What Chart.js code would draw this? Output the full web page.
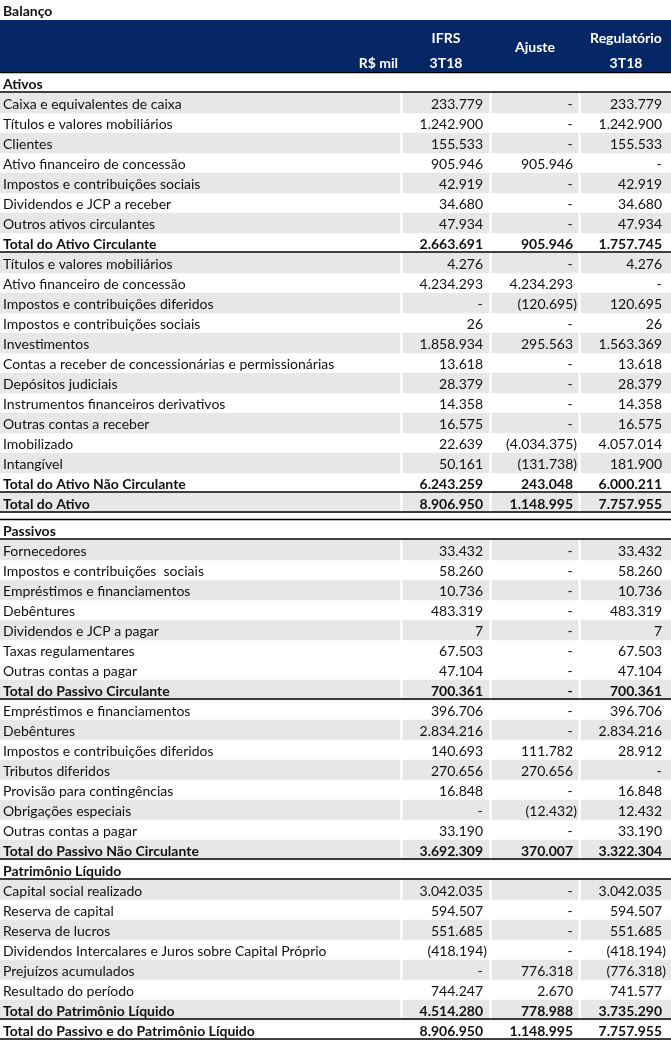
<!DOCTYPE html>
<html><head><meta charset="utf-8">
<script src="https://cdn.jsdelivr.net/npm/chart.js@4.4.1/dist/chart.umd.min.js"></script>
<style>
html,body{margin:0;padding:0;background:#fff;}
#wrap{position:relative;width:671px;height:1040px;overflow:hidden;}
#c1{position:absolute;left:0;top:0;}
#c2{position:absolute;left:0;top:518px;}
</style></head><body>
<div id="wrap"><canvas id="c1" width="671" height="513"></canvas><canvas id="c2" width="671" height="522"></canvas></div>
<script>
// ---------- DATA ----------
const title = 'Balanço';
const unitLabel = 'R$ mil';
const colHeaders = [['IFRS', '3T18'], ['Ajuste'], ['Regulatório', '3T18']];

const assetLabels = [
  'Ativos',
  'Caixa e equivalentes de caixa',
  'Títulos e valores mobiliários',
  'Clientes',
  'Ativo financeiro de concessão',
  'Impostos e contribuições sociais',
  'Dividendos e JCP a receber',
  'Outros ativos circulantes',
  'Total do Ativo Circulante',
  'Títulos e valores mobiliários',
  'Ativo financeiro de concessão',
  'Impostos e contribuições diferidos',
  'Impostos e contribuições sociais',
  'Investimentos',
  'Contas a receber de concessionárias e permissionárias',
  'Depósitos judiciais',
  'Instrumentos financeiros derivativos',
  'Outras contas a receber',
  'Imobilizado',
  'Intangível',
  'Total do Ativo Não Circulante',
  'Total do Ativo'
];
const assetIFRS = [null, 233779, 1242900, 155533, 905946, 42919, 34680, 47934, 2663691,
  4276, 4234293, 0, 26, 1858934, 13618, 28379, 14358, 16575, 22639, 50161, 6243259, 8906950];
const assetAjuste = [null, 0, 0, 0, 905946, 0, 0, 0, 905946,
  0, 4234293, -120695, 0, 295563, 0, 0, 0, 0, -4034375, -131738, 243048, 1148995];
const assetReg = [null, 233779, 1242900, 155533, 0, 42919, 34680, 47934, 1757745,
  4276, 0, 120695, 26, 1563369, 13618, 28379, 14358, 16575, 4057014, 181900, 6000211, 7757955];

const liabLabels = [
  'Passivos',
  'Fornecedores',
  'Impostos e contribuições  sociais',
  'Empréstimos e financiamentos',
  'Debêntures',
  'Dividendos e JCP a pagar',
  'Taxas regulamentares',
  'Outras contas a pagar',
  'Total do Passivo Circulante',
  'Empréstimos e financiamentos',
  'Debêntures',
  'Impostos e contribuições diferidos',
  'Tributos diferidos',
  'Provisão para contingências',
  'Obrigações especiais',
  'Outras contas a pagar',
  'Total do Passivo Não Circulante',
  'Patrimônio Líquido',
  'Capital social realizado',
  'Reserva de capital',
  'Reserva de lucros',
  'Dividendos Intercalares e Juros sobre Capital Próprio',
  'Prejuízos acumulados',
  'Resultado do período',
  'Total do Patrimônio Líquido',
  'Total do Passivo e do Patrimônio Líquido'
];
const liabIFRS = [null, 33432, 58260, 10736, 483319, 7, 67503, 47104, 700361,
  396706, 2834216, 140693, 270656, 16848, 0, 33190, 3692309,
  null, 3042035, 594507, 551685, -418194, 0, 744247, 4514280, 8906950];
const liabAjuste = [null, 0, 0, 0, 0, 0, 0, 0, 0,
  0, 0, 111782, 270656, 0, -12432, 0, 370007,
  null, 0, 0, 0, 0, 776318, 2670, 778988, 1148995];
const liabReg = [null, 33432, 58260, 10736, 483319, 7, 67503, 47104, 700361,
  396706, 2834216, 28912, 0, 16848, 12432, 33190, 3322304,
  null, 3042035, 594507, 551685, -418194, -776318, 741577, 3735290, 7757955];

// ---------- STYLE / LAYOUT ----------
const FONT = 'Lato, "Open Sans", sans-serif';
const FS = 14;
const NAVY = '#062766';
const GRAY = '#e7e7e7';
const TEXT = '#111111';
const LABEL_SPAN = [0, 400];
const CELL_SPANS = [[403, 489], [492, 578], [581, 671]];
const NUM_RIGHT = [483, 573, 662];
const assetShaded = assetLabels.map((_, i) => i % 2 === 1);
const liabShadedIdx = [1, 3, 5, 8, 10, 12, 14, 16, 18, 20, 22, 24];
const liabShaded = liabLabels.map((_, i) => liabShadedIdx.includes(i));

function fmt(v) {
  if (v === null || v === undefined) return '';
  if (v === 0) return '-';
  const s = Math.abs(v).toString().replace(/\B(?=(\d{3})+(?!\d))/g, '.');
  return v < 0 ? '(' + s + ')' : s;
}

const tablePlugin = {
  id: 'tableText',
  afterDatasetsDraw(chart) {
    const o = chart.options.plugins.tableText;
    const ctx = chart.ctx;
    const xs = chart.scales.x, ys = chart.scales.y;
    const labels = chart.data.labels;
    const series = o.series;
    const rowH = ys.getPixelForValue(1) - ys.getPixelForValue(0);
    ctx.save();
    ctx.fillStyle = TEXT;
    ctx.textBaseline = 'middle';
    labels.forEach((lab, i) => {
      const y = ys.getPixelForValue(i) + 1;
      const heading = series.every(s => s[i] === null);
      const bold = heading || lab.startsWith('Total');
      ctx.font = (bold ? 'bold ' : '') + FS + 'px ' + FONT;
      ctx.textAlign = 'left';
      ctx.fillText(lab, xs.getPixelForValue(3), y);
      series.forEach((s, j) => {
        const v = s[i];
        if (v === null) return;
        const t = fmt(v);
        if (v === 0) {
          ctx.textAlign = 'center';
          ctx.fillText(t, xs.getPixelForValue(NUM_RIGHT[j] - 3), y);
        } else if (v < 0) {
          ctx.textAlign = 'right';
          ctx.fillText(t, xs.getPixelForValue(NUM_RIGHT[j] + 4), y);
        } else {
          ctx.textAlign = 'right';
          ctx.fillText(t, xs.getPixelForValue(NUM_RIGHT[j]), y);
        }
      });
      // borders
      ctx.strokeStyle = '#000';
      ctx.lineWidth = 1.5;
      if (bold) {
        const yb = ys.getPixelForValue(i) + rowH / 2 - 1;
        ctx.beginPath(); ctx.moveTo(xs.getPixelForValue(0), yb); ctx.lineTo(xs.getPixelForValue(671), yb); ctx.stroke();
      }
      if (i === 0) {
        const yt = ys.getPixelForValue(0) - rowH / 2 - 0.5;
        ctx.beginPath(); ctx.moveTo(xs.getPixelForValue(0), yt); ctx.lineTo(xs.getPixelForValue(671), yt); ctx.stroke();
      }
    });
    if (o.header) {
      const top = chart.chartArea.top;
      ctx.fillStyle = NAVY;
      ctx.fillRect(xs.getPixelForValue(0), top - 53, xs.getPixelForValue(671) - xs.getPixelForValue(0), 52);
      ctx.fillStyle = TEXT;
      ctx.font = 'bold ' + FS + 'px ' + FONT;
      ctx.textAlign = 'left';
      ctx.fillText(title, xs.getPixelForValue(3), top - 62);
      ctx.fillStyle = '#ffffff';
      ctx.textAlign = 'right';
      ctx.fillText(unitLabel, xs.getPixelForValue(398), top - 10);
      ctx.textAlign = 'center';
      colHeaders.forEach((h, j) => {
        const cx = xs.getPixelForValue((CELL_SPANS[j][0] + CELL_SPANS[j][1]) / 2);
        if (h.length === 2) {
          ctx.fillText(h[0], cx, top - 35);
          ctx.fillText(h[1], cx, top - 10);
        } else {
          ctx.fillText(h[0], cx, top - 26);
        }
      });
    }
    ctx.restore();
  }
};

function makeConfig(labels, ifrs, aj, reg, shaded, padTop, header) {
  const spans = [LABEL_SPAN].concat(CELL_SPANS);
  const datasets = spans.map(sp => ({
    data: labels.map((_, i) => shaded[i] ? sp.slice() : null),
    backgroundColor: GRAY,
    borderWidth: 0,
    borderSkipped: false,
    barPercentage: 1,
    categoryPercentage: 1,
    grouped: false
  }));
  return {
    type: 'bar',
    data: { labels, datasets },
    options: {
      indexAxis: 'y',
      responsive: false,
      animation: false,
      events: [],
      layout: { padding: { top: padTop, left: 0, right: 0, bottom: 0 } },
      scales: {
        x: { type: 'linear', min: 0, max: 671, display: false },
        y: { type: 'category', display: false, offset: true }
      },
      plugins: {
        legend: { display: false },
        tooltip: { enabled: false },
        tableText: { series: [ifrs, aj, reg], header }
      }
    },
    plugins: [tablePlugin]
  };
}

new Chart(document.getElementById('c1'), makeConfig(assetLabels, assetIFRS, assetAjuste, assetReg, assetShaded, 73, true));
new Chart(document.getElementById('c2'), makeConfig(liabLabels, liabIFRS, liabAjuste, liabReg, liabShaded, 2, false));
</script>
</body></html>
